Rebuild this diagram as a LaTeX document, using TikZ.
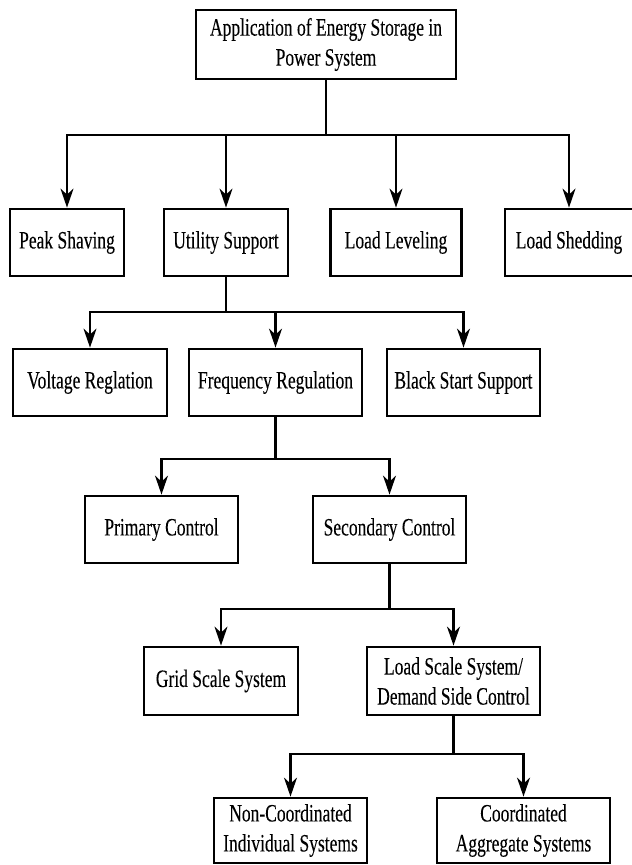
\documentclass[tikz,border=0pt]{standalone}
\usepackage{fontspec}
\setmainfont[FakeStretch=0.70,FakeBold=0.1]{Liberation Serif}
\usetikzlibrary{arrows.meta}
\begin{document}
\begin{tikzpicture}[x=1pt,y=-1pt,
  box/.style={draw,line width=2.8pt,rectangle,inner sep=0pt,align=center,
    font={\fontsize{25}{30}\selectfont}},
  conn/.style={line width=2.1pt},
  arr/.style={conn,-{Stealth[length=19pt,width=13pt,inset=6pt]}}]
\useasboundingbox (0,0) rectangle (632,865);
% level 0
\node[box,minimum width=260pt,minimum height=69pt] (top) at (326,44.5) {Application of Energy Storage in\\Power System};
% level 1
\node[box,minimum width=114pt,minimum height=67pt] (peak) at (67,242.5) {Peak Shaving};
\node[box,minimum width=124pt,minimum height=67pt] (util) at (226,242.5) {Utility Support};
\node[box,minimum width=131pt,minimum height=67pt] (lev) at (396,242.5) {Load Leveling};
\node[box,minimum width=128pt,minimum height=67pt] (shed) at (569,242.5) {Load Shedding};
% level 2
\node[box,minimum width=154pt,minimum height=67pt] (volt) at (90,382.5) {Voltage Reglation};
\node[box,minimum width=173pt,minimum height=67pt] (freq) at (275.5,382.5) {Frequency Regulation};
\node[box,minimum width=153pt,minimum height=67pt] (black) at (463.5,382.5) {Black Start Support};
% level 3
\node[box,minimum width=153pt,minimum height=67pt] (prim) at (161.5,529.5) {Primary Control};
\node[box,minimum width=153pt,minimum height=67pt] (sec) at (389.5,529.5) {Secondary Control};
% level 4
\node[box,minimum width=154pt,minimum height=68pt] (grid) at (221,681) {Grid Scale System};
\node[box,minimum width=173pt,minimum height=68pt] (lss) at (453.5,681) {Load Scale System/\\Demand Side Control};
% level 5
\node[box,minimum width=153pt,minimum height=65pt] (non) at (290.5,830.5) {Non-Coordinated\\Individual Systems};
\node[box,minimum width=173pt,minimum height=65pt] (coord) at (523.5,830.5) {Coordinated\\Aggregate Systems};
% junctions
\coordinate (j1) at (326,135);
\coordinate (j2) at (226,312);
\coordinate (j3) at (275.5,459);
\coordinate (j4) at (389.5,609);
\coordinate (j5) at (453.5,754);
% connectors
\draw[conn] (top.south) -- (j1);
\draw[arr] (j1) -| (peak.north);
\draw[arr] (j1) -| (util.north);
\draw[arr] (j1) -| (lev.north);
\draw[arr] (j1) -| (shed.north);
\draw[conn] (util.south) -- (j2);
\draw[arr] (j2) -| (volt.north);
\draw[arr] (j2) -| (freq.north);
\draw[arr] (j2) -| (black.north);
\draw[conn] (freq.south) -- (j3);
\draw[arr] (j3) -| (prim.north);
\draw[arr] (j3) -| (sec.north);
\draw[conn] (sec.south) -- (j4);
\draw[arr] (j4) -| (grid.north);
\draw[arr] (j4) -| (lss.north);
\draw[conn] (lss.south) -- (j5);
\draw[arr] (j5) -| (non.north);
\draw[arr] (j5) -| (coord.north);
\end{tikzpicture}
\end{document}
